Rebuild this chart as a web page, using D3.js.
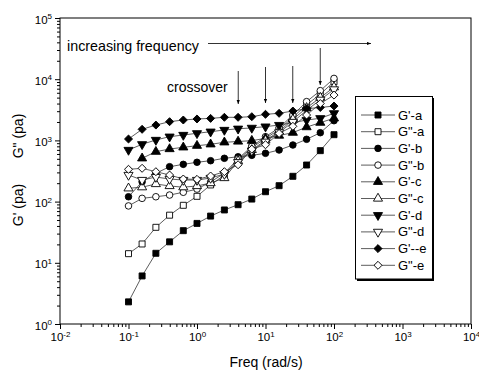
<!DOCTYPE html>
<html><head><meta charset="utf-8">
<script src="https://cdn.jsdelivr.net/npm/d3@7"></script>
<style>
body{margin:0;background:#fff;}
svg{display:block;font-family:"Liberation Sans",Arial,sans-serif;}
</style></head>
<body>
<svg id="c" width="479" height="372"></svg>
<script>
const freq = [0.1, 0.158, 0.251, 0.398, 0.631, 1, 1.58, 2.51, 3.98, 6.31, 10, 15.8, 25.1, 39.8, 63.1, 100];
const Gp_a  = [2.3, 6.1, 14.3, 22, 33.5, 44, 58, 73, 89, 110, 145, 182, 259, 396, 680, 1240];
const Gpp_a = [14.1, 20.3, 38, 60, 87, 122, 187, 272, 480, 760, 1080, 1500, 2400, 3800, 5700, 9100];
const Gp_b  = [120, 211, 290, 372, 406, 439, 466, 510, 540, 570, 615, 697, 841, 1042, 1336, 2100];
const Gpp_b = [85, 113, 120, 128, 142, 160, 210, 290, 500, 800, 1150, 1600, 2600, 4300, 6500, 10300];
const Gp_c  = [null, 510, 654, 723, 771, 819, 864, 931, 960, 990, 1080, 1200, 1340, 1650, 1950, 2300];
const Gpp_c = [165, 172, 194, 180, 172, 180, 201, 243, 460, 700, 1000, 1400, 2200, 3400, 5000, 7400];
const Gp_d  = [697, 864, 1016, 1150, 1225, 1306, 1387, 1479, 1550, 1600, 1680, 1780, 1950, 2150, 2300, 2770];
const Gpp_d = [272, 225, 252, 234, 225, 225, 243, 282, 440, 680, 950, 1350, 2000, 3100, 4600, 6800];
const Gp_e  = [1054, 1518, 1780, 2022, 2154, 2240, 2290, 2385, 2385, 2440, 2670, 2770, 3020, 3300, 3450, 3640];
const Gpp_e = [337, 350, 308, 272, 234, 231, 262, 308, 400, 720, 850, 1300, 1700, 2600, 4000, 5500];

const seriesNames = ["G'-a", 'G"-a', "G'-b", 'G"-b', "G'-c", 'G"-c', "G'-d", 'G"-d', "G'--e", 'G"-e'];
const seriesValues = [Gp_a, Gpp_a, Gp_b, Gpp_b, Gp_c, Gpp_c, Gp_d, Gpp_d, Gp_e, Gpp_e];
const seriesShapes = ["square","square","circle","circle","up","up","down","down","diamond","diamond"];
const seriesFilled = [true,false,true,false,true,false,true,false,true,false];

const xTickExps = [-2, -1, 0, 1, 2, 3, 4];
const yTickExps = [0, 1, 2, 3, 4, 5];
const crossoverFreqs = [4, 10, 25, 63];

const svg = d3.select("#c");
const L = 60, R = 471, T = 18, B = 324;
const x = d3.scaleLog().domain([1e-2, 1e4]).range([L, R]);
const y = d3.scaleLog().domain([1, 1e5]).range([B, T]);

function minorVals(exps){
  const out = [];
  for (let i = 0; i < exps.length - 1; i++)
    for (let k = 2; k <= 9; k++) out.push(k * Math.pow(10, exps[i]));
  return out;
}
function supLabels(sel){
  sel.selectAll(".tick text").each(function(d){
    const e = Math.round(Math.log10(d));
    const t = d3.select(this).text(null);
    t.append("tspan").text("10");
    t.append("tspan").attr("dy", "-0.55em").attr("font-size", "8px").text(e);
  });
}

// x axis
svg.append("g").attr("transform", `translate(0,${B})`)
  .call(d3.axisBottom(x).tickValues(minorVals(xTickExps)).tickSize(3).tickFormat(""));
const gxM = svg.append("g").attr("transform", `translate(0,${B})`)
  .call(d3.axisBottom(x).tickValues(xTickExps.map(e => Math.pow(10, e))).tickSize(5).tickPadding(4));
gxM.selectAll(".tick text").attr("font-size", "11.5px").attr("fill", "#000").attr("font-family", "Liberation Sans, Arial, sans-serif");
supLabels(gxM);

// y axis
svg.append("g").attr("transform", `translate(${L},0)`)
  .call(d3.axisLeft(y).tickValues(minorVals(yTickExps)).tickSize(3).tickFormat(""));
const gyM = svg.append("g").attr("transform", `translate(${L},0)`)
  .call(d3.axisLeft(y).tickValues(yTickExps.map(e => Math.pow(10, e))).tickSize(5).tickPadding(3));
gyM.selectAll(".tick text").attr("font-size", "11.5px").attr("fill", "#000").attr("font-family", "Liberation Sans, Arial, sans-serif").attr("dy", "0.45em");
supLabels(gyM);
svg.selectAll(".domain").remove();
svg.selectAll(".tick line").attr("stroke", "#000");

// frame
svg.append("rect").attr("x", L).attr("y", T).attr("width", R - L).attr("height", B - T)
  .attr("fill", "none").attr("stroke", "#000").attr("stroke-width", 1);

// symbols
function symPath(shape){
  if (shape === "square") return d3.symbol(d3.symbolSquare, 36)();
  if (shape === "circle") return d3.symbol(d3.symbolCircle, 34)();
  if (shape === "up" || shape === "down") return d3.symbol(d3.symbolTriangle, 36)();
  if (shape === "diamond") return d3.symbol(d3.symbolSquare, 32)();
}
function symRot(shape){
  if (shape === "down") return 180;
  if (shape === "diamond") return 45;
  return 0;
}

const line = d3.line().defined(d => d[1] != null).x(d => x(d[0])).y(d => y(d[1]));
seriesValues.forEach((vals, i) => {
  const pts = freq.map((f, j) => [f, vals[j]]);
  const g = svg.append("g");
  g.append("path").attr("d", line(pts)).attr("fill", "none").attr("stroke", "#333").attr("stroke-width", 0.8);
  g.selectAll("path.m").data(pts.filter(p => p[1] != null)).enter().append("path").attr("class", "m")
    .attr("d", symPath(seriesShapes[i]))
    .attr("transform", p => `translate(${x(p[0])},${y(p[1])}) rotate(${symRot(seriesShapes[i])})`)
    .attr("fill", seriesFilled[i] ? "#000" : "#fff")
    .attr("stroke", "#000").attr("stroke-width", 0.9);
});

// annotations
const defs = svg.append("defs");
defs.append("marker").attr("id", "ah").attr("viewBox", "0 0 10 10").attr("refX", 10).attr("refY", 5)
  .attr("markerWidth", 5).attr("markerHeight", 5).attr("orient", "auto")
  .append("path").attr("d", "M0,1 L10,5 L0,9 z").attr("fill", "#000");

svg.append("text").attr("x", 67).attr("y", 51).attr("font-size", "14.3px").text("increasing frequency");
svg.append("line").attr("x1", 208).attr("x2", 371).attr("y1", 43.5).attr("y2", 43.5)
  .attr("stroke", "#000").attr("stroke-width", 0.8).attr("marker-end", "url(#ah)");
svg.append("text").attr("x", 167).attr("y", 92).attr("font-size", "14px").text("crossover");
const arrowTops = [71, 67, 66, 48];
const arrowBots = [104, 103, 103, 85];
crossoverFreqs.forEach((f, i) => {
  svg.append("line").attr("x1", x(f)).attr("x2", x(f)).attr("y1", arrowTops[i]).attr("y2", arrowBots[i])
    .attr("stroke", "#000").attr("stroke-width", 0.8).attr("marker-end", "url(#ah)");
});

// axis titles
svg.append("text").attr("x", 266).attr("y", 367).attr("text-anchor", "middle").attr("font-size", "14px").text("Freq (rad/s)");
svg.append("text").attr("transform", "translate(23,205) rotate(-90)").attr("text-anchor", "middle").attr("font-size", "14px").text("G' (pa)");
svg.append("text").attr("transform", "translate(23,136) rotate(-90)").attr("text-anchor", "middle").attr("font-size", "14px").text('G" (pa)');

// legend
const lg = svg.append("g");
lg.append("rect").attr("x", 357).attr("y", 98).attr("width", 77).attr("height", 183).attr("fill", "#000");
lg.append("rect").attr("x", 355.5).attr("y", 96.5).attr("width", 77).attr("height", 182.5).attr("fill", "#fff").attr("stroke", "#000").attr("stroke-width", 1);
seriesNames.forEach((n, i) => {
  const yy = 115 + i * 16.7;
  lg.append("line").attr("x1", 361).attr("x2", 395).attr("y1", yy).attr("y2", yy).attr("stroke", "#333").attr("stroke-width", 0.8);
  lg.append("path").attr("d", symPath(seriesShapes[i]))
    .attr("transform", `translate(378,${yy}) rotate(${symRot(seriesShapes[i])})`)
    .attr("fill", seriesFilled[i] ? "#000" : "#fff").attr("stroke", "#000").attr("stroke-width", 0.9);
  lg.append("text").attr("x", 398).attr("y", yy + 4.5).attr("font-size", "13px").text(n);
});
</script>
</body></html>
